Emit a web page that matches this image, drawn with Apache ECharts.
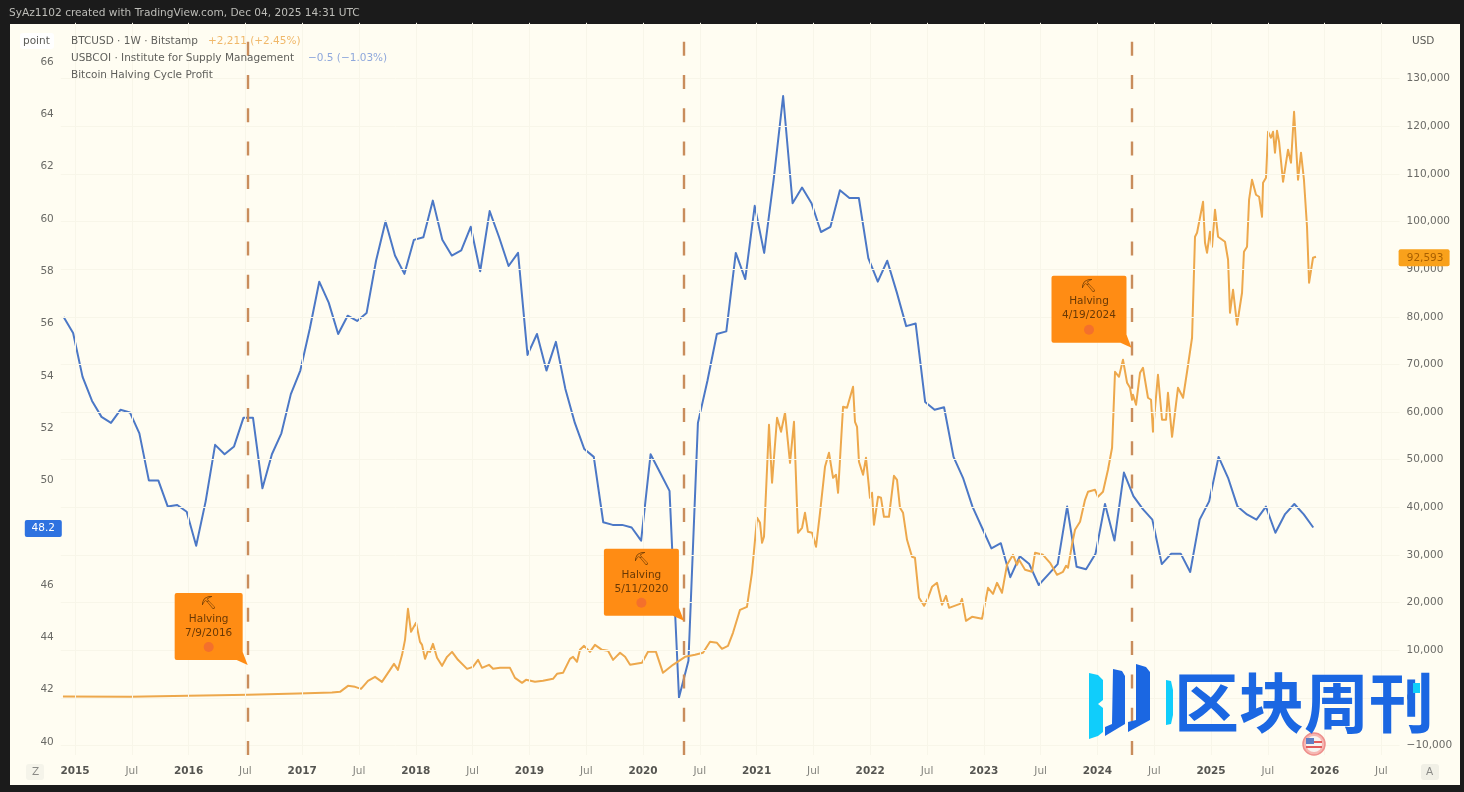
<![CDATA[<!DOCTYPE html>
<html><head><meta charset="utf-8">
<style>html,body{margin:0;padding:0;background:#1b1b1b}#c{width:1464px;height:792px}</style>
<script src="https://cdn.jsdelivr.net/npm/echarts@6/dist/echarts.min.js"></script>
</head><body><div id="c"></div>
<script>
// ----- data read from the picture -----
const pmiFirstMonth = 2014.9;
const pmiValues = [
56.25,55.64,53.96,53.04,52.43,52.2,52.7,52.6,51.8,50,
50,49,49.06,48.8,47.5,49.2,51.36,51,51.3,52.4,
52.4,49.7,51,51.8,53.3,54.2,55.8,57.6,56.8,55.6,
56.3,56.1,56.4,58.4,59.9,58.6,57.9,59.2,59.3,60.7,
59.2,58.6,58.8,59.7,58,60.3,59.3,58.2,58.7,54.8,
55.6,54.2,55.3,53.5,52.2,51.2,50.9,48.4,48.3,48.3,
48.2,47.7,51,50.3,49.6,41.7,43.1,52.2,53.8,55.6,
55.7,58.7,57.7,60.5,58.7,61.5,64.7,60.6,61.2,60.6,
59.5,59.7,61.1,60.8,60.8,58.5,57.6,58.4,57.2,55.9,
56,53,52.7,52.8,50.9,50.1,49,48.2,47.4,47.6,
46.3,47.1,46.8,46,46.4,46.8,49,46.7,46.6,47.2,
49.1,47.7,50.3,49.4,48.9,48.5,46.8,47.2,47.2,46.5,
48.5,49.2,50.9,50.1,49,48.7,48.5,49,48,48.7,
49.1,48.7,48.2];
const btcYears = [
2014.894,2015.484,2015.995,2016.523,2016.963,2017.262,2017.333,2017.403,2017.465,2017.518,
2017.579,2017.641,2017.702,2017.773,2017.808,2017.843,2017.879,2017.905,2017.931,2017.958,
2018.002,2018.037,2018.055,2018.081,2018.107,2018.125,2018.151,2018.187,2018.231,2018.275,
2018.319,2018.371,2018.451,2018.503,2018.548,2018.583,2018.644,2018.680,2018.741,2018.829,
2018.873,2018.935,2018.970,2019.049,2019.120,2019.208,2019.243,2019.296,2019.357,2019.384,
2019.419,2019.445,2019.481,2019.533,2019.577,2019.639,2019.692,2019.736,2019.798,2019.842,
2019.886,2019.991,2020.044,2020.114,2020.176,2020.264,2020.370,2020.458,2020.528,2020.590,
2020.651,2020.695,2020.748,2020.792,2020.854,2020.915,2020.959,2021.004,2021.030,2021.048,
2021.065,2021.109,2021.136,2021.180,2021.215,2021.250,2021.294,2021.329,2021.364,2021.400,
2021.426,2021.452,2021.488,2021.523,2021.558,2021.602,2021.637,2021.673,2021.699,2021.717,
2021.761,2021.796,2021.849,2021.866,2021.884,2021.901,2021.937,2021.963,2021.998,2022.016,
2022.033,2022.069,2022.095,2022.121,2022.165,2022.209,2022.236,2022.262,2022.289,2022.324,
2022.368,2022.394,2022.430,2022.474,2022.509,2022.544,2022.588,2022.632,2022.667,2022.694,
2022.790,2022.808,2022.843,2022.896,2022.984,2023.037,2023.081,2023.116,2023.160,2023.204,
2023.257,2023.292,2023.310,2023.363,2023.424,2023.451,2023.521,2023.583,2023.644,2023.697,
2023.724,2023.741,2023.776,2023.803,2023.847,2023.891,2023.917,2023.979,2024.005,2024.049,
2024.093,2024.129,2024.155,2024.190,2024.225,2024.261,2024.287,2024.305,2024.313,2024.340,
2024.375,2024.401,2024.445,2024.472,2024.489,2024.533,2024.569,2024.604,2024.621,2024.657,
2024.709,2024.754,2024.789,2024.806,2024.833,2024.859,2024.877,2024.930,2024.947,2024.965,
2024.991,2025.009,2025.035,2025.062,2025.123,2025.150,2025.167,2025.194,2025.229,2025.273,
2025.290,2025.317,2025.335,2025.361,2025.396,2025.423,2025.449,2025.458,2025.484,2025.502,
2025.528,2025.546,2025.563,2025.581,2025.599,2025.634,2025.678,2025.704,2025.731,2025.766,
2025.792,2025.818,2025.845,2025.863,2025.898,2025.924];
const btcUsd = [
300,250,430,650,900,1100,1260,2520,2310,1890,
3570,4410,3360,5880,7140,5880,9030,12180,18690,13860,
15750,11760,11130,8190,9870,9660,11340,8400,6720,8610,
9660,7980,6090,6510,7980,6300,6930,6090,6300,6300,
4200,3150,3780,3360,3570,3990,5040,5250,8190,8610,
7560,10080,10920,9660,11130,10080,9870,7980,9450,8610,
6930,7350,9660,9660,5250,6930,8610,9030,9450,11760,
11550,10290,10920,13650,18480,19110,26250,37800,36750,32550,
33810,57330,45150,58800,55860,59850,49350,57960,34650,35700,
38850,34860,34650,31710,38850,48510,51450,46200,46830,43050,
61110,60900,65310,57960,56910,49560,46830,50400,42000,43050,
36330,42210,42000,38010,38010,46620,45780,39900,38850,33180,
29610,29400,21000,19320,21000,23310,24150,19530,21420,18900,
19740,20790,16170,17010,16590,23100,21840,24150,22050,27930,
30030,27930,28980,26880,26460,30450,30030,28350,25830,26460,
27720,27300,32130,35280,36960,41580,43260,43680,42210,43260,
47880,52500,68460,67410,70980,66150,65100,62580,63630,61530,
68250,69300,63000,62580,55860,67830,58380,58380,64050,54810,
65100,63000,68460,68250,75600,96810,97650,104160,95550,93450,
97860,94710,102480,96810,95760,91980,80850,85680,78330,85050,
93660,94710,104580,108780,105630,105210,101010,108150,109200,118860,
117600,118860,114450,119070,116760,108360,115080,112350,123060,108780,
114450,108780,98910,87150,92400,92593];
const halvingYears = [2016.52, 2020.36, 2024.30];
const halvingDates = ['7/9/2016','5/11/2020','4/19/2024'];
const halvingCalloutUsd = [6900, 16170, 73500];
const leftTicks = [40,42,44,46,48,50,52,54,56,58,60,62,64,66];
const rightTicks = [-10000,0,10000,20000,30000,40000,50000,60000,70000,80000,90000,100000,110000,120000,130000];
const yearTicks = [2015,2016,2017,2018,2019,2020,2021,2022,2023,2024,2025,2026];
const halfYearTicks = [2015.5,2016.5,2017.5,2018.5,2019.5,2020.5,2021.5,2022.5,2023.5,2024.5,2025.5,2026.5];
const titleText = 'SyAz1102 created with TradingView.com, Dec 04, 2025 14:31 UTC';
const legendBtc = 'BTCUSD \u00b7 1W \u00b7 Bitstamp', legendBtcChange = '+2,211 (+2.45%)';
const legendPmi = 'USBCOI \u00b7 Institute for Supply Management', legendPmiChange = '\u22120.5 (\u22121.03%)';
const legendCycle = 'Bitcoin Halving Cycle Profit';
const logoText = '\u533a\u5757\u5468\u520a';
const lastPmi = pmiValues[pmiValues.length-1], lastBtc = btcUsd[btcUsd.length-1];

// ----- style -----
const FONT = '"DejaVu Sans", sans-serif';
const GREY = '#6a6a66', BLUE = '#4c78c6', ORANGE = '#eda84c', BOX = '#ff8c14', PAPER = '#fffdf2', GRID = '#f8f6e9';
const fmtRight = v => v.toLocaleString('en-US').replace('-', '\u2212');

const pmiData = pmiValues.map((v,i)=>[pmiFirstMonth + i/12, v]);
const btcData = btcYears.map((y,i)=>[y, btcUsd[i]]);
const silentLine = (data, style) => ({symbol:'none',silent:true,animation:false,label:{show:false},lineStyle:style,data});

function txt(x,y,text,fill,extra){return Object.assign({type:'text',z:20,style:Object.assign({x,y,text,fill,font:'10.5px '+FONT,textVerticalAlign:'middle'},extra||{})},{});}
function poly(points,fill){return {type:'polygon',z:30,shape:{points,smooth:0},style:{fill}};}

const option = {
  animation:false,
  backgroundColor:'#1b1b1b',
  textStyle:{fontFamily:FONT},
  grid:{left:60.8,top:22.8,width:1338.8,height:732.2,containLabel:false},
  xAxis:{type:'value',min:2014.875,max:2026.66,interval:0.125,
    axisLine:{show:false},axisTick:{show:false},splitLine:{show:false},
    axisLabel:{show:true,margin:11,showMinLabel:false,showMaxLabel:false,hideOverlap:false,
      formatter:v=> yearTicks.includes(v)?'{y|'+v+'}':(halfYearTicks.includes(v)?'{m|Jul}':''),
      rich:{y:{fontFamily:FONT,fontWeight:'bold',fontSize:10.5,color:'#555551'},m:{fontFamily:FONT,fontSize:10.5,color:'#85857f'}}}},
  yAxis:[
    {type:'value',position:'left',min:39.5,max:67.5,interval:0.5,
      axisLine:{show:false},axisTick:{show:false},splitLine:{show:false},
      axisLabel:{margin:7,color:GREY,fontSize:10.5,fontFamily:FONT,showMinLabel:false,showMaxLabel:false,
        formatter:v=>leftTicks.includes(v)?String(v):''}},
    {type:'value',position:'right',min:-12000,max:141726,interval:2000,
      axisLine:{show:false},axisTick:{show:false},splitLine:{show:false},
      axisLabel:{margin:7,color:GREY,fontSize:10.5,fontFamily:FONT,showMinLabel:false,showMaxLabel:false,
        formatter:v=>rightTicks.includes(v)?fmtRight(v):''}}
  ],
  graphic:{elements:[
    {type:'rect',z:-10,zlevel:0,shape:{x:10,y:24,width:1450,height:761},style:{fill:PAPER}},
    txt(9,13,titleText,'#bdbdb8',{font:'10.6px '+FONT}),
    {type:'rect',z:5,shape:{x:20,y:33,width:34,height:16,r:3},style:{fill:'#ffffff'}},
    txt(23,41,'point','#5a5a56'),
    txt(71,41,legendBtc,'#5f5f5b'),
    txt(208,41,legendBtcChange,'#f0b86a'),
    txt(71,58,legendPmi,'#5f5f5b'),
    txt(308,58,legendPmiChange,'#8fa8dc'),
    txt(71,75,legendCycle,'#5f5f5b'),
    txt(1412,41,'USD','#5a5a56'),
    {type:'rect',z:5,shape:{x:26,y:764,width:18,height:16,r:3},style:{fill:'#f5f4ea'}},
    txt(32,772,'Z','#8a8a86'),
    {type:'rect',z:5,shape:{x:1421,y:764,width:18,height:16,r:3},style:{fill:'#f1f0e6'}},
    txt(1426,772,'A','#8a8a86'),
    // earnings/flag marker
    {type:'circle',z:25,shape:{cx:1314,cy:744,r:11},style:{fill:'#f6b7b2',stroke:'#ee8f8c',lineWidth:1.5}},
    {type:'circle',z:26,shape:{cx:1314,cy:744,r:8},style:{fill:'#f6f4f0'}},
    {type:'rect',z:27,shape:{x:1306,y:738,width:8,height:6},style:{fill:'#5f7fc4'}},
    {type:'rect',z:27,shape:{x:1306,y:746,width:16,height:2},style:{fill:'#e25b5b'}},
    {type:'rect',z:27,shape:{x:1314,y:741,width:8,height:2},style:{fill:'#e25b5b'}},
    // watermark logo
    poly([[1089,673],[1098,675],[1103,680],[1103,700],[1098,704],[1103,708],[1103,732],[1098,736],[1089,739]],'#10cdfb'),
    poly([[1113,669],[1122,671],[1125,676],[1125,724],[1105,736],[1105,727],[1112,724]],'#1b67e2'),
    poly([[1136,664],[1146,667],[1150,672],[1150,720],[1128,732],[1128,722],[1136,720]],'#1b67e2'),
    poly([[1166,680],[1171,681],[1173,690],[1173,715],[1171,724],[1166,725]],'#10cdfb'),
    {type:'text',z:31,style:{x:1174,y:702,text:logoText,fill:'#1b67e2',font:'bold 65px "Noto Sans CJK SC", sans-serif',textVerticalAlign:'middle'}},
    {type:'rect',z:32,shape:{x:1413,y:683,width:7,height:10},style:{fill:'#10cdfb'}}
  ]},
  series:[
    // faint gridlines
    {type:'line',xAxisIndex:0,yAxisIndex:1,data:[],z:1,
      markLine:silentLine(rightTicks.map(v=>({yAxis:v})).concat(yearTicks.concat(halfYearTicks).map(v=>({xAxis:v}))),{color:GRID,width:1,type:'solid'})},
    // halving lines
    {type:'line',xAxisIndex:0,yAxisIndex:0,data:[],z:2,
      markLine:silentLine(halvingYears.map(v=>({xAxis:v})),{color:'#c98d5c',width:2.4,type:[14,19.3],dashOffset:0,cap:'butt'})},
    {name:'USBCOI',type:'line',xAxisIndex:0,yAxisIndex:0,data:pmiData,showSymbol:false,symbol:'none',z:3,
      lineStyle:{color:BLUE,width:2,join:'round'}},
    {name:'BTCUSD',type:'line',xAxisIndex:0,yAxisIndex:1,data:btcData,showSymbol:false,symbol:'none',z:4,
      lineStyle:{color:ORANGE,width:2,join:'round'}},
    // halving callouts
    {type:'custom',xAxisIndex:0,yAxisIndex:1,z:6,clip:false,silent:true,
      data:halvingYears.map((y,i)=>[y,halvingCalloutUsd[i]]),
      renderItem:(params,api)=>{
        const tip = api.coord([api.value(0),api.value(1)]);
        const date = halvingDates[params.dataIndex];
        const w = 7*date.length+12, h = 67;
        const r = tip[0]-5, b = tip[1]-5, l = r-w, t = b-h, cx = (l+r)/2;
        const text = (y,s,f)=>({type:'text',style:{x:cx,y,text:s,fill:'#6a3905',font:f,textAlign:'center',textVerticalAlign:'middle'}});
        return {type:'group',children:[
          {type:'rect',shape:{x:l,y:t,width:w,height:h,r:2},style:{fill:BOX}},
          {type:'polygon',shape:{points:[[r,b-8],tip,[r-6,b]]},style:{fill:BOX}},
          text(t+11,'\u26cf','13px '+FONT),
          text(t+26,'Halving','10.5px '+FONT),
          text(t+40,date,'10.5px '+FONT),
          {type:'circle',shape:{cx,cy:t+54,r:5},style:{fill:'#f4702c'}}
        ]};
      }},
    // last-value badges
    {type:'custom',xAxisIndex:0,yAxisIndex:0,z:7,clip:false,silent:true,data:[[2015,lastPmi]],
      renderItem:(params,api)=>{
        const y = api.coord([api.value(0),api.value(1)])[1]+1;
        const l = params.coordSys.x-36;
        return {type:'group',children:[
          {type:'rect',shape:{x:l,y:y-8.5,width:37,height:17,r:2},style:{fill:'#2e72e0'}},
          {type:'text',style:{x:l+18.5,y,text:String(lastPmi),fill:'#ffffff',font:'10.5px '+FONT,textAlign:'center',textVerticalAlign:'middle'}}
        ]};
      }},
    {type:'custom',xAxisIndex:0,yAxisIndex:1,z:7,clip:false,silent:true,data:[[2015,lastBtc]],
      renderItem:(params,api)=>{
        const y = api.coord([api.value(0),api.value(1)])[1]+1;
        const l = params.coordSys.x+params.coordSys.width-1;
        return {type:'group',children:[
          {type:'rect',shape:{x:l,y:y-8.5,width:51,height:17,r:2},style:{fill:'#f9a11b'}},
          {type:'text',style:{x:l+26.5,y,text:fmtRight(lastBtc),fill:'#a85f00',font:'10.5px '+FONT,textAlign:'center',textVerticalAlign:'middle'}}
        ]};
      }}
  ]
};
echarts.init(document.getElementById('c'),null,{renderer:'canvas'}).setOption(option);
</script></body></html>]]>
